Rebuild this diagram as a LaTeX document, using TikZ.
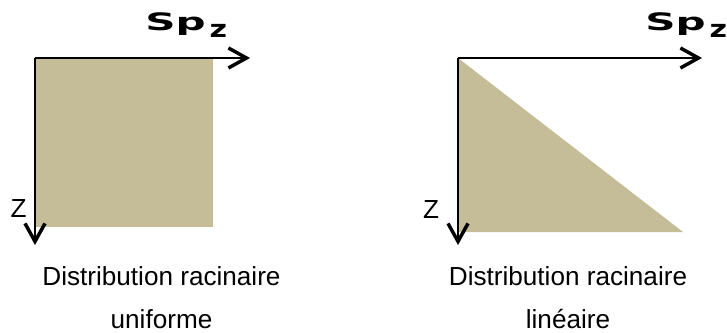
\documentclass[tikz,border=0pt]{standalone}
\usepackage{fontspec}
\usepackage{graphicx}
\setmainfont{Liberation Sans}
\newfontfamily\spfont{DejaVu Sans}
\usetikzlibrary{arrows.meta}
\definecolor{soiltan}{HTML}{C4BD97}
\newcommand{\spz}{{\spfont\bfseries\scalebox{1.75}[1]{Sp}\hspace{3pt}\raisebox{-5pt}{\scalebox{1.25}[1]{z}}}}

\begin{document}
\begin{tikzpicture}[x=0.75pt, y=-0.75pt,
    axis/.style={line width=1.8pt, -{Straight Barb[length=13.5pt, width=15pt, line width=2.6pt]}},
    caption/.style={align=center, inner sep=0pt, anchor=north, font=\fontsize{19.6}{32.25}\selectfont},
    zlabel/.style={inner sep=0pt, anchor=base, font=\fontsize{19.6}{22}\selectfont},
    splabel/.style={inner sep=0pt, anchor=base west, font=\fontsize{18}{20}\selectfont}]
    \useasboundingbox (0,0) rectangle (727,332);

    % uniforme
    \coordinate (oa) at (35,58);
    \coordinate (xa) at (250,58);
    \coordinate (za) at (35,245);
    \fill[soiltan] (oa) rectangle (213,227);
    \draw[axis] (oa) -- (xa);
    \draw[axis] (oa) -- (za);
    \node[zlabel] (zla) at (18.5,217) {Z};
    \node[splabel] (spa) at (145,31) {\spz};
    \node[caption] (capa) at (161.5,266) {Distribution racinaire\\uniforme};

    % lineaire
    \coordinate (ob) at (458,58);
    \coordinate (xb) at (702,58);
    \coordinate (zb) at (458,245);
    \fill[soiltan] (ob) -- (458,232) -- (683,232) -- cycle;
    \draw[axis] (ob) -- (xb);
    \draw[axis] (ob) -- (zb);
    \node[zlabel] (zlb) at (431,218) {Z};
    \node[splabel] (spb) at (645,31) {\spz};
    \node[caption] (capb) at (568,266) {Distribution racinaire\\linéaire};
\end{tikzpicture}
\end{document}
